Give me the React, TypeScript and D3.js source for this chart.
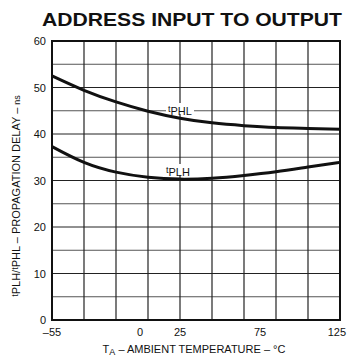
import * as d3 from 'd3';
import React from 'react';

const temps = [-55, -35, -15, 5, 25, 45, 65, 85, 105, 125];
const tPHL = [52.5, 49.4, 46.9, 44.9, 43.4, 42.4, 41.8, 41.4, 41.2, 41.0];
const tPLH = [37.3, 33.9, 31.8, 30.7, 30.3, 30.5, 31.1, 31.9, 32.9, 33.9];
const xTickLabels = [-55, 0, 25, 75, 125];
const yTickLabels = [0, 10, 20, 30, 40, 50, 60];
const yGrid = [5, 10, 15, 20, 25, 30, 35, 40, 45, 50, 55];

const left = 52;
const right = 340;
const top = 41;
const bottom = 320;
const font = '"Liberation Sans", Arial, Helvetica, sans-serif';

const App = () => {
  const x = d3.scaleLinear().domain([-55, 125]).range([left, right]);
  const y = d3.scaleLinear().domain([0, 60]).range([bottom, top]);

  const line = d3
    .line<number>()
    .x((_, i) => x(temps[i]))
    .y((d) => y(d))
    .curve(d3.curveNatural);

  // white patch behind the curve labels (gridlines stop there)
  const patch = (lx: number, ly: number) => (
    <rect x={lx - 2} y={ly - 12} width={28} height={11} fill="#fff" />
  );
  const label = (sub: string, lx: number, ly: number) => (
    <text x={lx} y={ly} fontFamily={font} fontSize={11} fill="#111">
      <tspan fontSize={9} dy={-3}>t</tspan>
      <tspan dy={3}>{sub}</tspan>
    </text>
  );

  return (
    <svg width={347} height={358} style={{ position: 'absolute', left: 0, top: 0, background: '#fff' }}>
      <text
        x={42}
        y={26}
        fontFamily={font}
        fontWeight="bold"
        fontSize={18}
        textLength={300}
        lengthAdjust="spacingAndGlyphs"
        fill="#111"
      >
        ADDRESS INPUT TO OUTPUT
      </text>

      {/* grid */}
      {yGrid.map((v) => (
        <line
          key={'h' + v}
          x1={left}
          x2={right}
          y1={y(v)}
          y2={y(v)}
          stroke={v % 10 === 0 ? '#222' : '#555'}
          strokeWidth={1}
        />
      ))}
      {temps.slice(1, -1).map((t) => (
        <line key={'v' + t} x1={x(t)} x2={x(t)} y1={top} y2={bottom} stroke="#222" strokeWidth={1.2} />
      ))}
      <rect x={left} y={top} width={right - left} height={bottom - top} fill="none" stroke="#111" strokeWidth={2} />

      {patch(168, 115)}
      {patch(166, 176)}

      {/* curves */}
      <path d={line(tPHL) || ''} fill="none" stroke="#111" strokeWidth={3} />
      <path d={line(tPLH) || ''} fill="none" stroke="#111" strokeWidth={3} />
      {label('PHL', 168, 115)}
      {label('PLH', 166, 176)}

      {/* y ticks */}
      {yTickLabels.map((v) => (
        <text
          key={'yt' + v}
          x={46}
          y={y(v) + 4}
          textAnchor="end"
          fontFamily={font}
          fontSize={11}
          fill="#111"
        >
          {v}
        </text>
      ))}
      {/* x ticks */}
      {xTickLabels.map((v) => (
        <text
          key={'xt' + v}
          x={v === 125 ? 346 : x(v)}
          y={336}
          textAnchor={v === 125 ? 'end' : 'middle'}
          fontFamily={font}
          fontSize={11}
          fill="#111"
        >
          {v < 0 ? '\u2013' + Math.abs(v) : v}
        </text>
      ))}

      {/* axis titles */}
      <text x={194} y={353} textAnchor="middle" fontFamily={font} fontSize={11} fill="#111">
        T<tspan fontSize={9} dy={2}>A</tspan>
        <tspan dy={-2}> – AMBIENT TEMPERATURE – °C</tspan>
      </text>
      <text
        transform="translate(20,196) rotate(-90)"
        textAnchor="middle"
        fontFamily={font}
        fontSize={11}
        fill="#111"
      >
        <tspan fontSize={9} dy={-2}>t</tspan>
        <tspan dy={2}>PLH</tspan>
        <tspan>/</tspan>
        <tspan fontSize={9} dy={-2}>t</tspan>
        <tspan dy={2}>PHL</tspan>
        <tspan> – PROPAGATION DELAY – </tspan>
        <tspan fontSize={9}>ns</tspan>
      </text>
    </svg>
  );
};

export default App;
